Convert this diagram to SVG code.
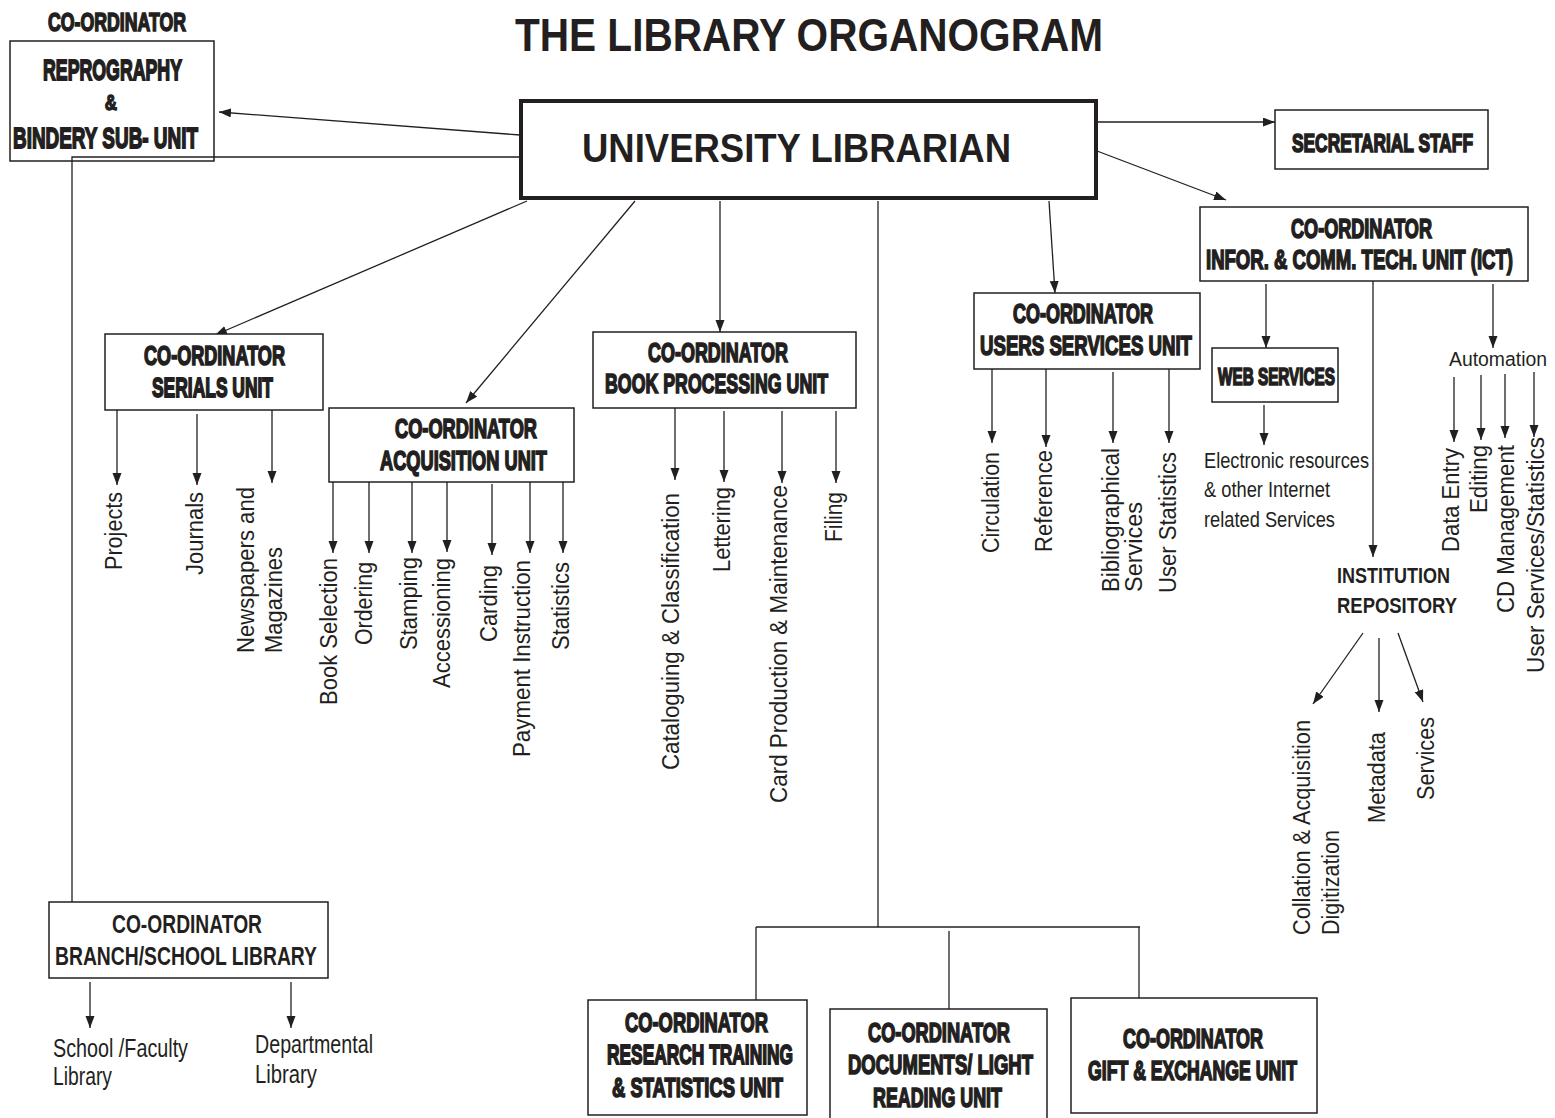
<svg xmlns="http://www.w3.org/2000/svg" width="1555" height="1118" viewBox="0 0 1555 1118">
<style>
.bg{fill:#ffffff}
.box{fill:#ffffff;stroke:#231f20;stroke-width:1.5}
.thick{fill:#ffffff;stroke:#231f20;stroke-width:4}
.imp{font-family:"Liberation Sans",Arial,sans-serif;font-weight:bold;fill:#231f20;stroke:#231f20;stroke-width:1.1}
.ab{font-family:"Liberation Sans Narrow","Liberation Sans",Arial,sans-serif;font-weight:bold;fill:#231f20}
.lbl{font-family:"Liberation Sans Narrow","Liberation Sans",Arial,sans-serif;fill:#231f20;font-size:23px}
.con line,.con polyline{stroke:#231f20;stroke-width:1.3;fill:none}
.arr{marker-end:url(#ah)}
</style>
<defs>
<marker id="ah" markerUnits="userSpaceOnUse" markerWidth="13" markerHeight="10" refX="12" refY="4.5" orient="auto">
<path d="M0,0 L12,4.5 L0,9 z" fill="#231f20"/>
</marker>
</defs>
<rect class="bg" x="0" y="0" width="1555" height="1118"/>

<text id="title" class="ab" x="515" y="51" font-size="46" textLength="588" lengthAdjust="spacingAndGlyphs">THE LIBRARY ORGANOGRAM</text>

<g id="connectors" class="con">
<line class="arr" x1="520" y1="135" x2="219" y2="112"/>
<polyline points="520,157 72,157 72,902"/>
<line class="arr" x1="1097" y1="122" x2="1275" y2="122"/>
<line class="arr" x1="1097" y1="151" x2="1226" y2="200"/>
<line class="arr" x1="527" y1="201" x2="215" y2="335"/>
<line class="arr" x1="635" y1="201" x2="466" y2="403"/>
<line class="arr" x1="720" y1="201" x2="720" y2="332"/>
<line class="arr" x1="1049" y1="201" x2="1055" y2="293"/>
<line x1="878" y1="201" x2="878" y2="927"/>
<line x1="756" y1="927" x2="1140" y2="927"/>
<line x1="756" y1="927" x2="756" y2="1000"/>
<line x1="949" y1="931" x2="949" y2="1009"/>
<line x1="1139" y1="927" x2="1139" y2="998"/>
<line class="arr" x1="1266" y1="284" x2="1266" y2="348"/>
<line class="arr" x1="1373" y1="281" x2="1373" y2="557"/>
<line class="arr" x1="1493" y1="284" x2="1493" y2="348"/>
<line class="arr" x1="1264" y1="405" x2="1264" y2="445"/>
<line class="arr" x1="1454" y1="377" x2="1454" y2="442"/>
<line class="arr" x1="1481" y1="375" x2="1481" y2="440"/>
<line class="arr" x1="1505" y1="374" x2="1505" y2="438"/>
<line class="arr" x1="1534" y1="372" x2="1534" y2="437"/>
<line class="arr" x1="1363" y1="633" x2="1313" y2="704"/>
<line class="arr" x1="1379" y1="638" x2="1379" y2="712"/>
<line class="arr" x1="1398" y1="633" x2="1423" y2="702"/>
<line class="arr" x1="992" y1="369" x2="992" y2="443"/>
<line class="arr" x1="1046" y1="369" x2="1046" y2="447"/>
<line class="arr" x1="1113" y1="372" x2="1113" y2="443"/>
<line class="arr" x1="1169" y1="369" x2="1169" y2="443"/>
<line class="arr" x1="675" y1="408" x2="675" y2="480"/>
<line class="arr" x1="724" y1="411" x2="724" y2="482"/>
<line class="arr" x1="782" y1="411" x2="782" y2="483"/>
<line class="arr" x1="836" y1="411" x2="836" y2="483"/>
<line class="arr" x1="117" y1="410" x2="117" y2="485"/>
<line class="arr" x1="197" y1="414" x2="197" y2="485"/>
<line class="arr" x1="272" y1="410" x2="272" y2="483"/>
<line class="arr" x1="333" y1="480" x2="333" y2="553"/>
<line class="arr" x1="369" y1="482" x2="369" y2="553"/>
<line class="arr" x1="412" y1="482" x2="412" y2="553"/>
<line class="arr" x1="447" y1="482" x2="447" y2="552"/>
<line class="arr" x1="492" y1="484" x2="492" y2="555"/>
<line class="arr" x1="530" y1="482" x2="530" y2="553"/>
<line class="arr" x1="563" y1="482" x2="563" y2="553"/>
<line class="arr" x1="90" y1="982" x2="90" y2="1028"/>
<line class="arr" x1="291" y1="982" x2="291" y2="1028"/>
</g>

<g id="reprography">
<text class="imp" transform="translate(48,31) scale(1,1.43)" font-size="17.5" textLength="138" lengthAdjust="spacingAndGlyphs">CO-ORDINATOR</text>
<rect class="box" x="10" y="41" width="204" height="120" fill-opacity="0"/>
<text class="imp" transform="translate(43,80) scale(1,1.635)" font-size="17.74" textLength="139" lengthAdjust="spacingAndGlyphs">REPROGRAPHY</text>
<text class="imp" transform="translate(111,110) scale(1,1.25)" font-size="17" text-anchor="middle">&amp;</text>
<text class="imp" transform="translate(13,148) scale(1,1.595)" font-size="18.81" textLength="185" lengthAdjust="spacingAndGlyphs">BINDERY SUB- UNIT</text>
</g>

<g id="librarian">
<rect class="thick" x="521" y="101" width="575" height="97"/>
<text class="ab" x="582" y="162" font-size="41" textLength="429" lengthAdjust="spacingAndGlyphs">UNIVERSITY LIBRARIAN</text>
</g>

<g id="secretarial">
<rect class="box" x="1275" y="110" width="213" height="59"/>
<text class="imp" transform="translate(1292,152) scale(1,1.58)" font-size="16.44" textLength="181" lengthAdjust="spacingAndGlyphs">SECRETARIAL STAFF</text>
</g>

<g id="ict">
<rect class="box" x="1200" y="207" width="328" height="74"/>
<text class="imp" transform="translate(1291,238) scale(1,1.51)" font-size="17.88" textLength="141" lengthAdjust="spacingAndGlyphs">CO-ORDINATOR</text>
<text class="imp" transform="translate(1206,269) scale(1,1.51)" font-size="18.54" textLength="307" lengthAdjust="spacingAndGlyphs">INFOR. &amp; COMM. TECH. UNIT (ICT)</text>
</g>

<g id="web-services">
<rect class="box" x="1212" y="348" width="126" height="54"/>
<text class="imp" transform="translate(1218,385) scale(1,1.57)" font-size="15.26" textLength="117" lengthAdjust="spacingAndGlyphs">WEB SERVICES</text>
</g>
<g id="electronic">
<text class="lbl" x="1204" y="468" style="font-size:22px" textLength="165" lengthAdjust="spacingAndGlyphs">Electronic resources</text>
<text class="lbl" x="1204" y="497" style="font-size:22px" textLength="126" lengthAdjust="spacingAndGlyphs">&amp; other Internet</text>
<text class="lbl" x="1204" y="527" style="font-size:22px" textLength="131" lengthAdjust="spacingAndGlyphs">related Services</text>
</g>

<g id="automation">
<text class="lbl" x="1449" y="366" style="font-size:20.5px" textLength="98" lengthAdjust="spacingAndGlyphs">Automation</text>
<text class="lbl" transform="translate(1458.5,552) rotate(-90)" textLength="104" lengthAdjust="spacingAndGlyphs">Data Entry</text>
<text class="lbl" transform="translate(1486.5,513) rotate(-90)" textLength="68" lengthAdjust="spacingAndGlyphs">Editing</text>
<text class="lbl" transform="translate(1513.5,613) rotate(-90)" textLength="168" lengthAdjust="spacingAndGlyphs">CD Management</text>
<text class="lbl" transform="translate(1543.5,673) rotate(-90)" textLength="236" lengthAdjust="spacingAndGlyphs">User Services/Statistics</text>
</g>

<g id="repository">
<text class="ab" x="1337" y="583" font-size="22" textLength="113" lengthAdjust="spacingAndGlyphs">INSTITUTION</text>
<text class="ab" x="1337" y="613" font-size="22" textLength="120" lengthAdjust="spacingAndGlyphs">REPOSITORY</text>
<text class="lbl" transform="translate(1309.5,935) rotate(-90)" textLength="215" lengthAdjust="spacingAndGlyphs">Collation &amp; Acquisition</text>
<text class="lbl" transform="translate(1338.5,935) rotate(-90)" textLength="105" lengthAdjust="spacingAndGlyphs">Digitization</text>
<text class="lbl" transform="translate(1384.5,823) rotate(-90)" textLength="91" lengthAdjust="spacingAndGlyphs">Metadata</text>
<text class="lbl" transform="translate(1433.5,800) rotate(-90)" textLength="83" lengthAdjust="spacingAndGlyphs">Services</text>
</g>

<g id="users-services">
<rect class="box" x="974" y="293" width="226" height="76"/>
<text class="imp" transform="translate(1013,323) scale(1,1.52)" font-size="17.75" textLength="140" lengthAdjust="spacingAndGlyphs">CO-ORDINATOR</text>
<text class="imp" transform="translate(980,355) scale(1,1.505)" font-size="18.61" textLength="212" lengthAdjust="spacingAndGlyphs">USERS SERVICES UNIT</text>
<text class="lbl" transform="translate(998.5,553) rotate(-90)" textLength="101" lengthAdjust="spacingAndGlyphs">Circulation</text>
<text class="lbl" transform="translate(1051.5,552) rotate(-90)" textLength="102" lengthAdjust="spacingAndGlyphs">Reference</text>
<text class="lbl" transform="translate(1118.5,592) rotate(-90)" textLength="144" lengthAdjust="spacingAndGlyphs">Bibliographical</text>
<text class="lbl" transform="translate(1141.5,592) rotate(-90)" textLength="90" lengthAdjust="spacingAndGlyphs">Services</text>
<text class="lbl" transform="translate(1175.5,593) rotate(-90)" textLength="141" lengthAdjust="spacingAndGlyphs">User Statistics</text>
</g>

<g id="book-processing">
<rect class="box" x="593" y="332" width="263" height="76"/>
<text class="imp" transform="translate(648,362) scale(1,1.52)" font-size="17.75" textLength="140" lengthAdjust="spacingAndGlyphs">CO-ORDINATOR</text>
<text class="imp" transform="translate(605,393) scale(1,1.577)" font-size="17.76" textLength="223" lengthAdjust="spacingAndGlyphs">BOOK PROCESSING UNIT</text>
<text class="lbl" transform="translate(678.5,770) rotate(-90)" textLength="277" lengthAdjust="spacingAndGlyphs">Cataloguing &amp; Classification</text>
<text class="lbl" transform="translate(729.5,572) rotate(-90)" textLength="85" lengthAdjust="spacingAndGlyphs">Lettering</text>
<text class="lbl" transform="translate(786.5,803) rotate(-90)" textLength="318" lengthAdjust="spacingAndGlyphs">Card Production &amp; Maintenance</text>
<text class="lbl" transform="translate(841.5,542) rotate(-90)" textLength="50" lengthAdjust="spacingAndGlyphs">Filing</text>
</g>

<g id="serials">
<rect class="box" x="105" y="334" width="218" height="76"/>
<text class="imp" transform="translate(144,365) scale(1,1.51)" font-size="17.88" textLength="141" lengthAdjust="spacingAndGlyphs">CO-ORDINATOR</text>
<text class="imp" transform="translate(152,397) scale(1,1.607)" font-size="17.42" textLength="121" lengthAdjust="spacingAndGlyphs">SERIALS UNIT</text>
<text class="lbl" transform="translate(121.5,570) rotate(-90)" textLength="78" lengthAdjust="spacingAndGlyphs">Projects</text>
<text class="lbl" transform="translate(202.5,575) rotate(-90)" textLength="83" lengthAdjust="spacingAndGlyphs">Journals</text>
<text class="lbl" transform="translate(253.5,653) rotate(-90)" textLength="166" lengthAdjust="spacingAndGlyphs">Newspapers and</text>
<text class="lbl" transform="translate(281.5,653) rotate(-90)" textLength="106" lengthAdjust="spacingAndGlyphs">Magazines</text>
</g>

<g id="acquisition">
<rect class="box" x="329" y="408" width="245" height="74"/>
<text class="imp" transform="translate(395,438) scale(1,1.5)" font-size="18" textLength="142" lengthAdjust="spacingAndGlyphs">CO-ORDINATOR</text>
<text class="imp" transform="translate(380,470) scale(1,1.537)" font-size="18.22" textLength="167" lengthAdjust="spacingAndGlyphs">ACQUISITION UNIT</text>
<text class="lbl" transform="translate(336.5,705) rotate(-90)" textLength="147" lengthAdjust="spacingAndGlyphs">Book Selection</text>
<text class="lbl" transform="translate(371.5,645) rotate(-90)" textLength="83" lengthAdjust="spacingAndGlyphs">Ordering</text>
<text class="lbl" transform="translate(416.5,650) rotate(-90)" textLength="93" lengthAdjust="spacingAndGlyphs">Stamping</text>
<text class="lbl" transform="translate(449.5,688) rotate(-90)" textLength="130" lengthAdjust="spacingAndGlyphs">Accessioning</text>
<text class="lbl" transform="translate(496.5,642) rotate(-90)" textLength="77" lengthAdjust="spacingAndGlyphs">Carding</text>
<text class="lbl" transform="translate(529.5,757) rotate(-90)" textLength="197" lengthAdjust="spacingAndGlyphs">Payment Instruction</text>
<text class="lbl" transform="translate(568.5,650) rotate(-90)" textLength="88" lengthAdjust="spacingAndGlyphs">Statistics</text>
</g>

<g id="branch">
<rect class="box" x="49" y="902" width="279" height="76"/>
<text class="ab" transform="translate(112,933) scale(1,1.37)" font-family="Liberation Sans, Arial, sans-serif" font-size="19" textLength="150" lengthAdjust="spacingAndGlyphs">CO-ORDINATOR</text>
<text class="ab" transform="translate(55,965) scale(1,1.35)" font-family="Liberation Sans, Arial, sans-serif" font-size="19.25" textLength="262" lengthAdjust="spacingAndGlyphs">BRANCH/SCHOOL LIBRARY</text>
<text class="lbl" x="53" y="1057" style="font-size:25px" textLength="135" lengthAdjust="spacingAndGlyphs">School /Faculty</text>
<text class="lbl" x="53" y="1085" style="font-size:25px" textLength="59" lengthAdjust="spacingAndGlyphs">Library</text>
<text class="lbl" x="255" y="1053" style="font-size:25px" textLength="118" lengthAdjust="spacingAndGlyphs">Departmental</text>
<text class="lbl" x="255" y="1083" style="font-size:25px" textLength="62" lengthAdjust="spacingAndGlyphs">Library</text>
</g>

<g id="research">
<rect class="box" x="588" y="1000" width="219" height="115"/>
<text class="imp" transform="translate(625,1032) scale(1,1.544)" font-size="18.13" textLength="143" lengthAdjust="spacingAndGlyphs">CO-ORDINATOR</text>
<text class="imp" transform="translate(607,1064) scale(1,1.614)" font-size="17.35" textLength="186" lengthAdjust="spacingAndGlyphs">RESEARCH TRAINING</text>
<text class="imp" transform="translate(612,1097) scale(1,1.547)" font-size="18.1" textLength="171" lengthAdjust="spacingAndGlyphs">&amp; STATISTICS UNIT</text>
</g>

<g id="documents">
<rect class="box" x="830" y="1009" width="217" height="115"/>
<text class="imp" transform="translate(868,1042) scale(1,1.556)" font-size="18" textLength="142" lengthAdjust="spacingAndGlyphs">CO-ORDINATOR</text>
<text class="imp" transform="translate(848,1074) scale(1,1.514)" font-size="18.5" textLength="185" lengthAdjust="spacingAndGlyphs">DOCUMENTS/ LIGHT</text>
<text class="imp" transform="translate(873,1107) scale(1,1.568)" font-size="17.86" textLength="129" lengthAdjust="spacingAndGlyphs">READING UNIT</text>
</g>

<g id="gift">
<rect class="box" x="1071" y="998" width="246" height="115"/>
<text class="imp" transform="translate(1123,1048) scale(1,1.52)" font-size="17.75" textLength="140" lengthAdjust="spacingAndGlyphs">CO-ORDINATOR</text>
<text class="imp" transform="translate(1088,1080) scale(1,1.585)" font-size="17.66" textLength="209" lengthAdjust="spacingAndGlyphs">GIFT &amp; EXCHANGE UNIT</text>
</g>
</svg>
